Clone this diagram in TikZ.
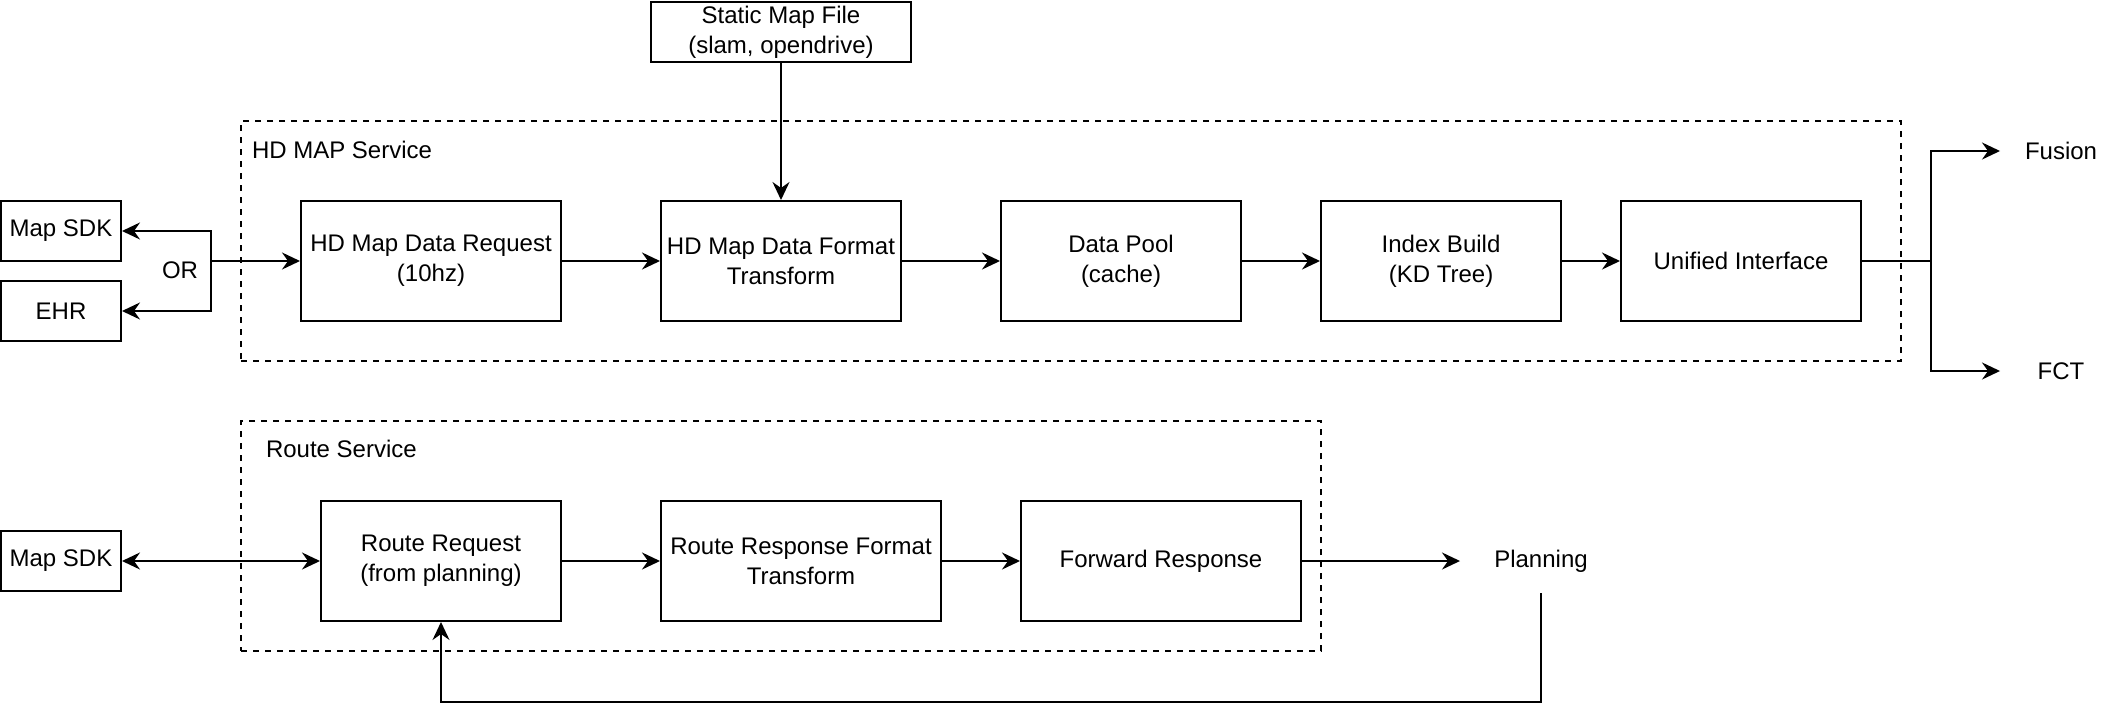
\documentclass[tikz,border=0pt]{standalone}
\usepackage{fontspec}
\setmainfont{Liberation Sans}
\usetikzlibrary{arrows.meta}

\begin{document}
\begin{tikzpicture}[x=1pt,y=-1pt,->,>={Stealth[length=18pt,width=17pt,inset=6pt]},
        line width=2pt,font=\fontsize{24}{30}\selectfont,
        block/.style={rectangle,draw,minimum width=240pt,minimum height=120pt,align=center,inner sep=1pt},
        small/.style={rectangle,draw,minimum width=120pt,minimum height=60pt,align=center,inner sep=1pt},
        plain/.style={rectangle,minimum width=120pt,minimum height=60pt,inner sep=1pt},
        group/.style={rectangle,draw,dash pattern=on 6pt off 6pt}]
      \useasboundingbox (0,0) rectangle (2122,718);

      % service frames
      \node[group,minimum width=1660pt,minimum height=240pt] (hdsvc) at (1071,241) {};
      \node[group,minimum width=1080pt,minimum height=230pt] (routesvc) at (781,536) {};
      \node[anchor=west,inner sep=0pt] (hdtitle) at (251,150) {HD MAP Service};
      \node[anchor=west,inner sep=0pt] (routetitle) at (265,449) {Route Service};

      % hd map chain
      \node[small,minimum width=260pt] (static) at (781,32) {Static Map File\\(slam, opendrive)};
      \node[small] (sdkhd) at (61,231) {Map SDK};
      \node[small] (ehr) at (61,311) {EHR};
      \node[inner sep=0pt] (orlabel) at (180,270) {OR};
      \node[block,minimum width=260pt] (hdreq) at (431,261) {HD Map Data Request\\(10hz)};
      \node[block] (hdfmt) at (781,261) {HD Map Data Format\\Transform};
      \node[block] (pool) at (1121,261) {Data Pool\\(cache)};
      \node[block] (index) at (1441,261) {Index Build\\(KD Tree)};
      \node[block] (unified) at (1741,261) {Unified Interface};
      \node[plain] (fusion) at (2061,151) {Fusion};
      \node[plain] (fct) at (2061,371) {FCT};
      \coordinate (split) at (211,261);
      \coordinate (merge) at (1931,261);

      \path (static) edge (hdfmt)
            (split) edge (hdreq)
            (hdreq) edge (hdfmt)
            (hdfmt) edge (pool)
            (pool) edge (index)
            (index) edge (unified);
      \draw (split) |- (sdkhd);
      \draw (split) |- (ehr);
      \draw[-] (unified) -- (merge);
      \draw (merge) |- (fusion);
      \draw (merge) |- (fct);

      % route chain
      \node[small] (sdkroute) at (61,561) {Map SDK};
      \node[block] (rreq) at (441,561) {Route Request\\(from planning)};
      \node[block,minimum width=280pt] (rresp) at (801,561) {Route Response Format\\Transform};
      \node[block,minimum width=280pt] (fwd) at (1161,561) {Forward Response};
      \node[plain,minimum width=160pt,minimum height=62pt] (planning) at (1541,561) {Planning};

      \path (sdkroute) edge[<->] (rreq)
            (rreq) edge (rresp)
            (rresp) edge (fwd)
            (fwd) edge (planning);
      \draw (planning.south) -- ++(0,109) -| (rreq);
\end{tikzpicture}
\end{document}
